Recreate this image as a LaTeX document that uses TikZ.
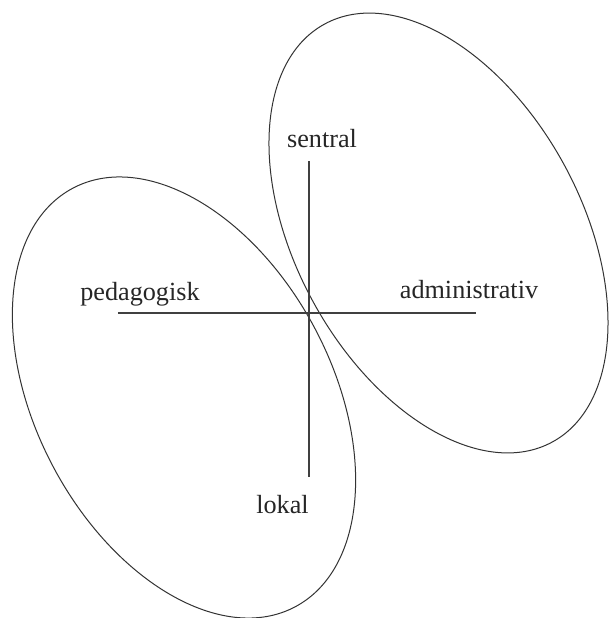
\documentclass[tikz,border=0pt]{standalone}
\usepackage{fontspec}
\setmainfont{Liberation Serif}
\tikzset{
  term/.style = {anchor=base, inner sep=0pt, outer sep=0pt,
                 text=black!85, font=\fontsize{13.1}{15}\selectfont},
  curve/.style = {draw=black!80, line width=0.5pt},
  axis/.style = {draw=black!75, line width=0.55pt}
}
\begin{document}
\begin{tikzpicture}[x=0.5pt,y=0.5pt]
	% Page
	\useasboundingbox (0,0) rectangle (611,-618);
	\fill[white] (0,0) rectangle (611,-618);

	% Ellipses
	\draw[curve, rotate around={-62:(184,-397.5)}]   (184,-397.5) ellipse (237 and 148); % pedagogisk / lokal
	\draw[curve, rotate around={-61.4:(438.5,-233)}] (438.5,-233) ellipse (238 and 143); % sentral / administrativ

	% Axes
	\coordinate (top)    at (309,-161);
	\coordinate (bottom) at (309,-477);
	\coordinate (west)   at (118,-313);
	\coordinate (east)   at (476,-313);
	\draw[axis] (top) -- (bottom);
	\draw[axis] (west) -- (east);

	% Terms
	\node[term] (sentral)  at (322,-147)   {sentral};
	\node[term] (pedagog)  at (140,-300)   {pedagogisk};
	\node[term] (admin)    at (469,-298)   {administrativ};
	\node[term] (lokal)    at (282.5,-513) {lokal};
\end{tikzpicture}
\end{document}
